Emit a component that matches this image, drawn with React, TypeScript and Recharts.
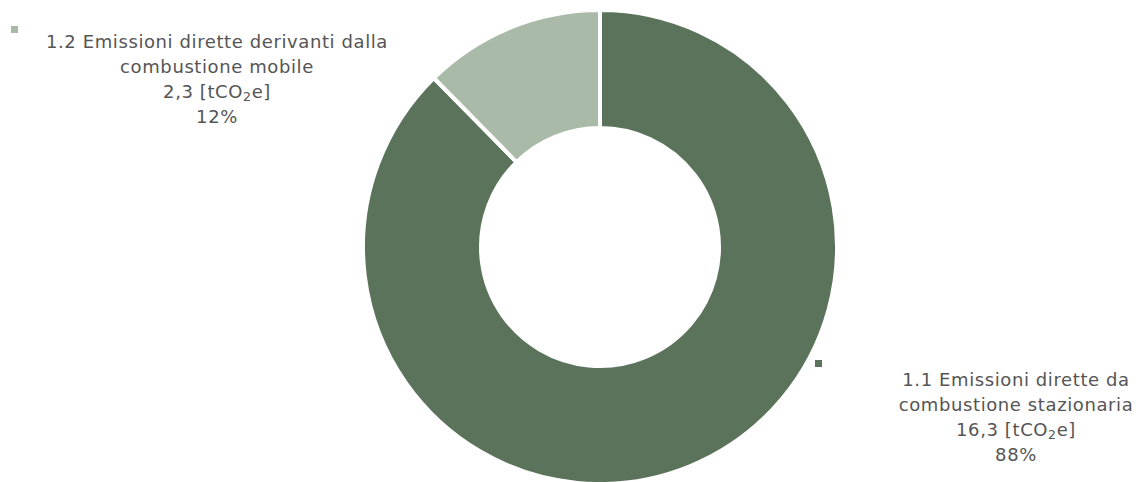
import React from 'react';
import { PieChart, Pie, Cell } from 'recharts';

const names = ['1.1 Emissioni dirette da combustione stazionaria', '1.2 Emissioni dirette derivanti dalla combustione mobile'];
const nameLines = [
  ['1.1 Emissioni dirette da', 'combustione stazionaria'],
  ['1.2 Emissioni dirette derivanti dalla', 'combustione mobile'],
];
const values = [16.3, 2.3];
const valueLabels = ['16,3', '2,3'];

const COLORS = ['#5c735b', '#aabaa9'];
const TEXT = '#555555';
const FONT = '"DejaVu Sans", sans-serif';

// label anchor (centre x, first baseline y) and legend marker per slice
const LABEL_POS = [
  { x: 1016, y: 386, mx: 815, my: 360 },
  { x: 217, y: 48, mx: 11, my: 26 },
];

const data = names.map((name, i) => ({ name, value: values[i] }));
const total = values.reduce((s, v) => s + v, 0);

const renderLabel = (props: any) => {
  const i = props.index;
  const p = LABEL_POS[i];
  const pct = Math.round((values[i] / total) * 100);
  const lh = 25;
  return (
    <g key={`lbl-${i}`}>
      <rect x={p.mx} y={p.my} width={7} height={7} fill={COLORS[i]} />
      <text x={p.x} y={p.y} textAnchor="middle" fill={TEXT} fontFamily={FONT} fontSize={18} letterSpacing={0.6}>
        <tspan x={p.x} dy={0}>{nameLines[i][0]}</tspan>
        <tspan x={p.x} dy={lh}>{nameLines[i][1]}</tspan>
        <tspan x={p.x} dy={lh}>{valueLabels[i]} [tCO</tspan>
        <tspan fontSize={12.5} dy={3}>2</tspan>
        <tspan dy={-3}>e]</tspan>
        <tspan x={p.x} dy={lh}>{pct}%</tspan>
      </text>
    </g>
  );
};

export default function App() {
  return (
    <div style={{ position: 'absolute', left: 0, top: 0, background: '#fff' }}>
      <PieChart width={1144} height={482}>
        <Pie
          data={data}
          dataKey="value"
          cx={595}
          cy={242}
          innerRadius={119}
          outerRadius={237}
          startAngle={90}
          endAngle={-270}
          stroke="#ffffff"
          strokeWidth={4}
          label={renderLabel}
          labelLine={false}
          isAnimationActive={false}
        >
          {data.map((d, i) => (
            <Cell key={`cell-${i}`} fill={COLORS[i]} />
          ))}
        </Pie>
      </PieChart>
    </div>
  );
}
